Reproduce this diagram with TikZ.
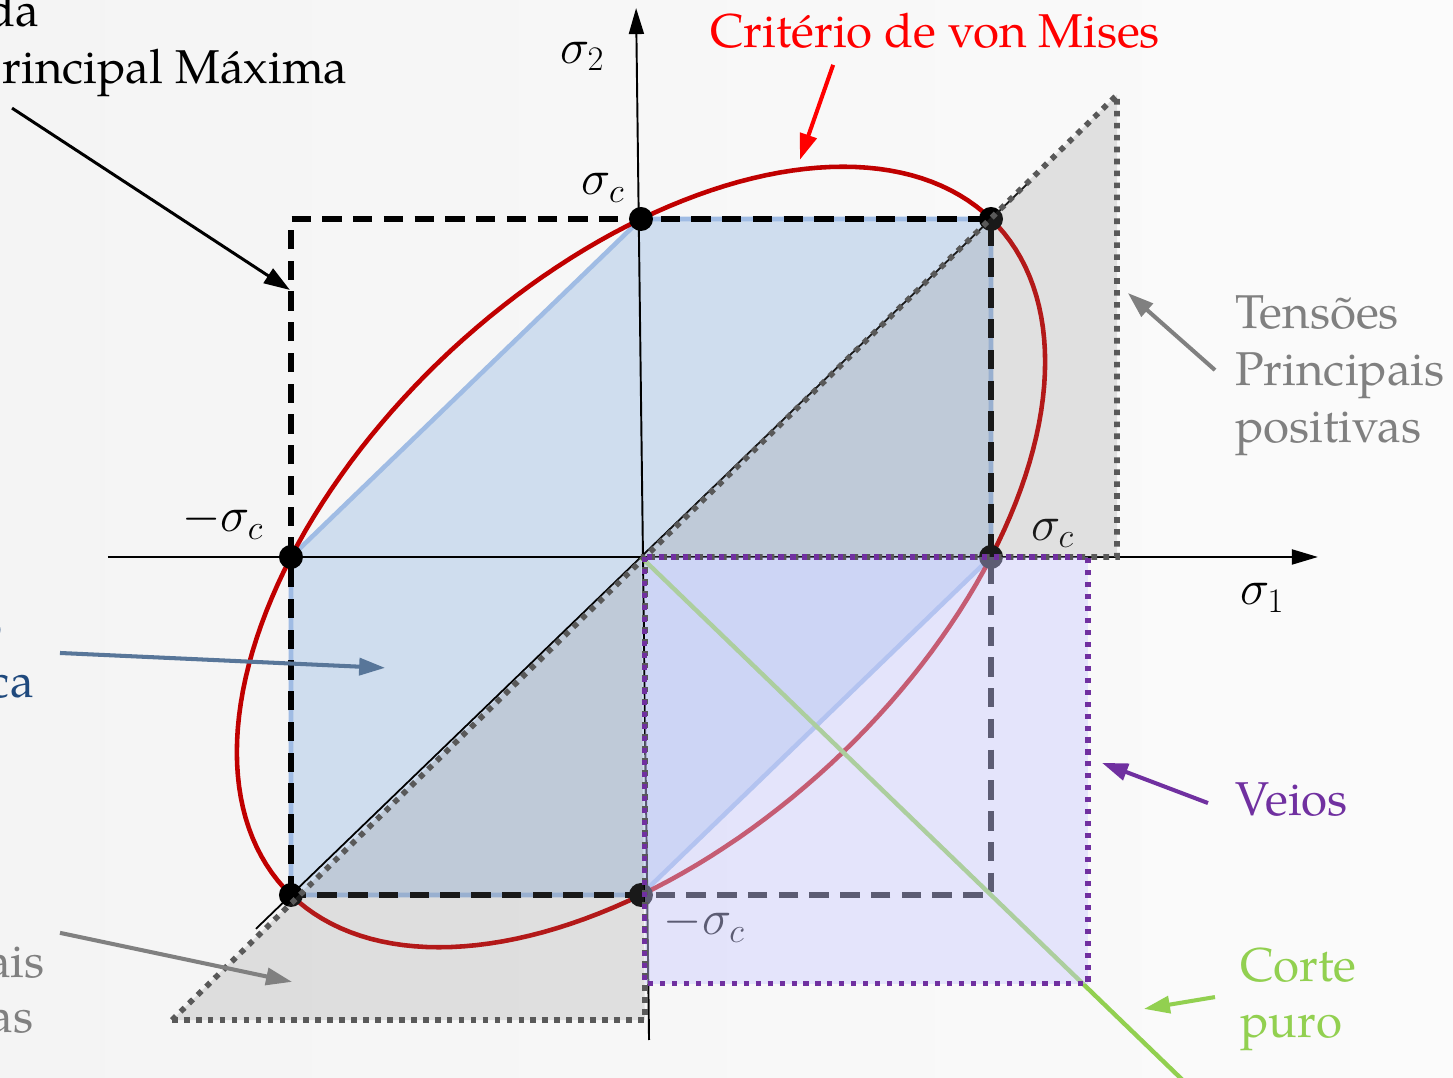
\RequirePackage{fix-cm}
\documentclass[tikz,border=0pt]{standalone}
\usepackage{fontspec}
\setmainfont{TeX Gyre Pagella}
\usetikzlibrary{arrows.meta,calc,positioning}
\definecolor{vmred}{RGB}{192,0,0}
\definecolor{trblue}{RGB}{207,221,238}
\definecolor{tredge}{RGB}{160,188,228}
\definecolor{dotgray}{RGB}{89,89,89}
\definecolor{veio}{RGB}{112,48,160}
\definecolor{veiofill}{RGB}{204,204,255}
\definecolor{corte}{RGB}{146,208,80}
\definecolor{trtext}{RGB}{31,73,125}
\definecolor{trarrow}{RGB}{88,118,153}
\definecolor{bgl}{RGB}{244,244,244}
\definecolor{bgr}{RGB}{251,251,251}
\tikzset{
  axis/.style    = {-{Triangle[length=5.2mm,width=3mm]}, line width=1.1pt},
  vec/.style     = {-{Triangle[length=5.2mm,width=3.4mm]}, line width=2.3pt},
  dot/.style     = {circle, fill=black, inner sep=0pt, minimum size=4.8mm},
  lbl/.style     = {font=\fontsize{28}{32}\selectfont, inner sep=0pt},
  txt/.style     = {font=\fontsize{27}{32.4}\selectfont, inner sep=0pt, align=left},
  gdots/.style   = {draw=dotgray, line width=3.2pt, dash pattern=on 3.2pt off 3.6pt},
  pdots/.style   = {draw=veio, line width=2.9pt, dash pattern=on 2.9pt off 3.9pt},
  rankine/.style = {line width=3.7pt, dash pattern=on 11pt off 6.5pt},
}
\begin{document}
\begin{tikzpicture}[x=7cm,y=6.76cm]
  \useasboundingbox (-1.8314,-1.5385) rectangle (2.32,1.6479);
  \shade[left color=bgl, right color=bgr] (-1.8314,-1.5385) rectangle (2.32,1.6479);
  % Tresca
  \filldraw[fill=trblue, draw=tredge, line width=2.6pt, line join=round]
    (-1,0) -- (0,1) -- (1,1) -- (1,0) -- (0,-1) -- (-1,-1) -- cycle;
  % tensao principal maxima
  \draw[rankine] (-1,-1) rectangle (1,1);
  % von Mises
  \draw[vmred, line width=2.6pt, line join=round]
    plot[domain=0:360, samples=181, variable=\t]
      ({cos(\t)-sin(\t)/sqrt(3)},{cos(\t)+sin(\t)/sqrt(3)}) -- cycle;
  \draw[axis] (-1.523,0) -- (1.934,0);
  \draw[axis] (0.023,-1.429) -- (-0.014,1.624);
  \draw[line width=1pt] (-1.1,-1.1) -- (1.11,1.11);
  \node[lbl, anchor=base west] (s2) at (-0.232,1.461) {$\sigma_2$};
  \node[lbl, anchor=base west] (s1) at (1.711,-0.142) {$\sigma_1$};
  \node[lbl, anchor=base west] (sctop) at (-0.170,1.071) {$\sigma_c$};
  \node[lbl, anchor=base west] (scleft) at (-1.312,0.074) {$-\sigma_c$};
  \node[lbl, anchor=base west] (scright) at (1.114,0.05) {$\sigma_c$};
  \node[lbl, anchor=base west] (scbot) at (0.064,-1.118) {$-\sigma_c$};
  \node[dot] (pl) at (-1,0) {};
  \node[dot] (pt) at (0,1) {};
  \node[dot] (ptr) at (1,1) {};
  \node[dot] (pr) at (1,0) {};
  \node[dot] (pb) at (0,-1) {};
  \node[dot] (pbl) at (-1,-1) {};
  % tensoes principais positivas / negativas
  \fill[black!50, fill opacity=0.2] (0,0) -- (1.36,1.367) -- (1.36,0) -- cycle;
  \fill[black!50, fill opacity=0.2] (0,0) -- (-1.34,-1.37) -- (0.011,-1.37) -- cycle;
  % corte puro
  \draw[corte, line width=2.5pt] (0,0) -- (1.56,-1.56);
  % veios
  \fill[veiofill, fill opacity=0.45] (0.011,0) rectangle (1.277,-1.263);
  \draw[gdots] (-1.34,-1.37) -- (1.36,1.367) -- (1.36,0) -- (0,0);
  \draw[gdots] (-1.34,-1.37) -- (0.011,-1.37) -- (0.011,0);
  \draw[pdots] (0.011,0) rectangle (1.277,-1.263);
  % textos
  \node[txt, red, anchor=base west] (vm) at (0.197,1.506) {Critério de von Mises};
  \node[txt, anchor=base east] (rk1) at (-1.717,1.568) {da};
  \node[txt, anchor=base east] (rk2) at (-0.837,1.402) {rincipal Máxima};
  \node[txt, trtext, anchor=base east] (tr1) at (-1.823,-0.249) {o};
  \node[txt, trtext, anchor=base east] (tr2) at (-1.734,-0.417) {ca};
  \node[txt, black!50, anchor=base east] (neg1) at (-1.703,-1.243) {ais};
  \node[txt, black!50, anchor=base east] (neg2) at (-1.734,-1.408) {as};
  \node[txt, black!50, anchor=base west] (pos) at (1.697,0.340) {Tensões\\Principais\\positivas};
  \node[txt, veio, anchor=base west] (vei) at (1.697,-0.766) {Veios};
  \node[txt, corte, anchor=base west] (cp) at (1.711,-1.423) {Corte\\puro};
  % setas
  \coordinate (vmtail) at (0.549,1.456);
  \coordinate (vmtip) at (0.454,1.175);
  \coordinate (rktail) at (-1.797,1.328);
  \coordinate (rktip) at (-1.003,0.790);
  \coordinate (trtail) at (-1.66,-0.284);
  \coordinate (trtip) at (-0.731,-0.328);
  \coordinate (negtail) at (-1.66,-1.112);
  \coordinate (negtip) at (-0.997,-1.257);
  \coordinate (postail) at (1.64,0.553);
  \coordinate (postip) at (1.391,0.781);
  \coordinate (veitail) at (1.62,-0.728);
  \coordinate (veitip) at (1.317,-0.609);
  \coordinate (cptail) at (1.64,-1.302);
  \coordinate (cptip) at (1.437,-1.337);
  \draw[vec, red] (vmtail) -- (vmtip);
  \draw[vec, line width=1.7pt] (rktail) -- (rktip);
  \draw[vec, trarrow] (trtail) -- (trtip);
  \draw[vec, black!50] (negtail) -- (negtip);
  \draw[vec, black!50] (postail) -- (postip);
  \draw[vec, veio] (veitail) -- (veitip);
  \draw[vec, corte] (cptail) -- (cptip);
\end{tikzpicture}
\end{document}
